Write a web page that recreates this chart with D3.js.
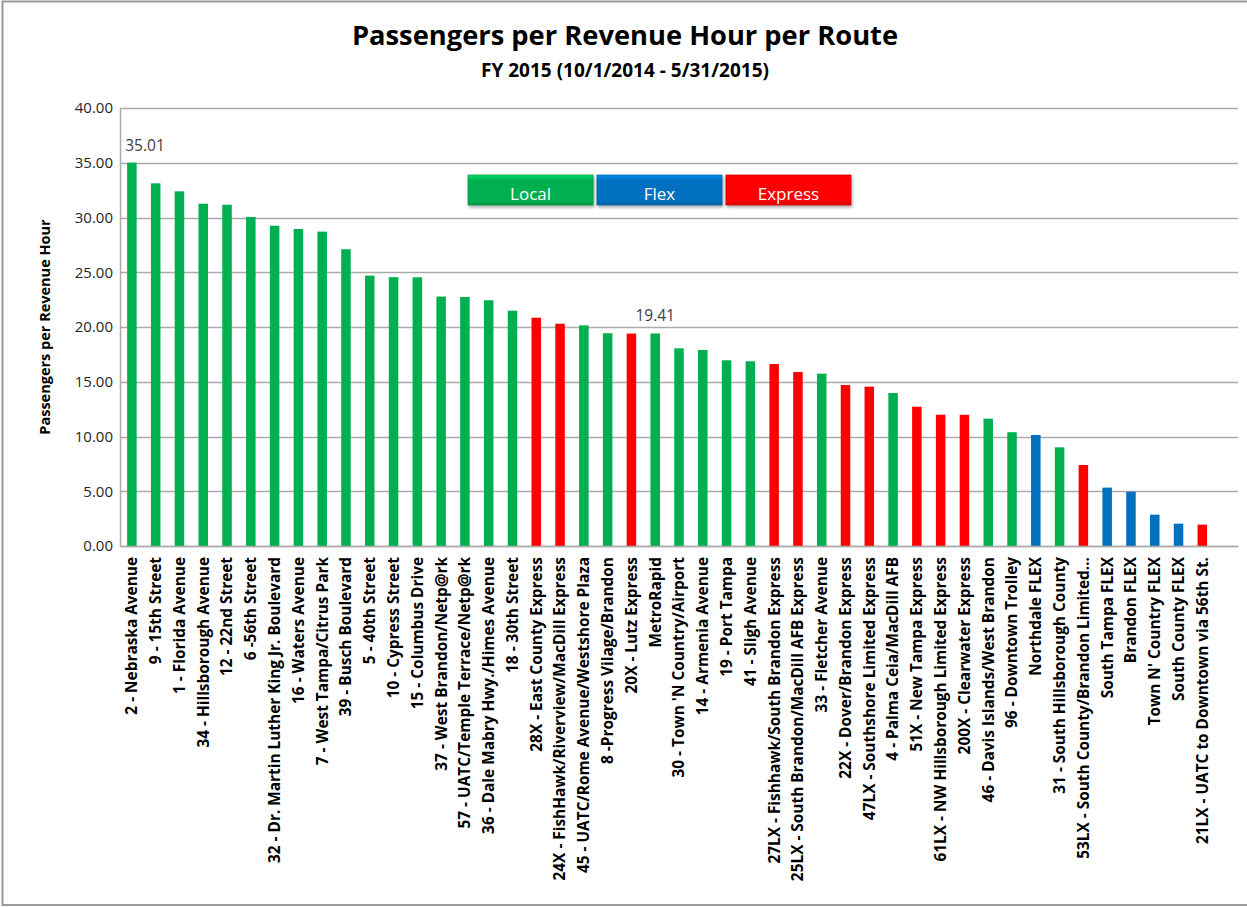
<!DOCTYPE html>
<html>
<head>
<meta charset="utf-8">
<script src="https://cdn.jsdelivr.net/npm/d3@7"></script>
<style>
  body { margin: 0; background: #fff; }
  text { font-family: "Open Sans", "Liberation Sans", sans-serif; }
</style>
</head>
<body>
<div id="chart"></div>
<script>
const width = 1247;
const height = 907;
const margin = {top: 108, right: 9, bottom: 361, left: 120};

// route names, in the order they appear
const routes = [
  "2 - Nebraska Avenue", "9 - 15th Street", "1 - Florida Avenue", "34 - Hillsborough Avenue",
  "12 - 22nd Street", "6 -56th Street", "32 - Dr. Martin Luther King Jr. Boulevard",
  "16 - Waters Avenue", "7 - West Tampa/Citrus Park", "39 - Busch Boulevard", "5 - 40th Street",
  "10 - Cypress Street", "15 - Columbus Drive", "37 - West Brandon/Netp@rk",
  "57 - UATC/Temple Terrace/Netp@rk", "36 - Dale Mabry Hwy./Himes Avenue", "18 - 30th Street",
  "28X - East County Express", "24X - FishHawk/Riverview/MacDill Express",
  "45 - UATC/Rome Avenue/Westshore Plaza", "8 -Progress Vilage/Brandon", "20X - Lutz Express",
  "MetroRapid", "30 - Town 'N Country/Airport", "14 - Armenia Avenue", "19 - Port Tampa",
  "41 - Sligh Avenue", "27LX - Fishhawk/South Brandon Express",
  "25LX - South Brandon/MacDill AFB Express", "33 - Fletcher Avenue",
  "22X - Dover/Brandon Express", "47LX - Southshore Limited Express",
  "4 - Palma Ceia/MacDill AFB", "51X - New Tampa Express",
  "61LX - NW Hillsborough Limited Express", "200X - Clearwater Express",
  "46 - Davis Islands/West Brandon", "96 - Downtown Trolley", "Northdale FLEX",
  "31 - South Hillsborough County", "53LX - South County/Brandon Limited...",
  "South Tampa FLEX", "Brandon FLEX", "Town N' Country FLEX", "South County FLEX",
  "21LX - UATC to Downtown via 56th St."
];

const passengers = [
  35.01, 33.12, 32.39, 31.26, 31.17, 30.05, 29.25, 28.95, 28.71, 27.10, 24.69,
  24.55, 24.54, 22.78, 22.74, 22.44, 21.49, 20.85, 20.30, 20.15, 19.43, 19.40,
  19.41, 18.05, 17.90, 16.96, 16.87, 16.62, 15.89, 15.74, 14.70, 14.55, 13.97,
  12.72, 11.99, 11.98, 11.63, 10.39, 10.14, 9.01, 7.40, 5.33, 4.96, 2.86, 2.04, 1.95
];

// L = Local, F = Flex, E = Express
const routeType = [
  "L","L","L","L","L","L","L","L","L","L","L","L","L","L","L","L","L",
  "E","E","L","L","E","L","L","L","L","L","E","E","L","E","E","L","E","E","E",
  "L","L","F","L","E","F","F","F","F","E"
];

const labelled = ["2 - Nebraska Avenue", "MetroRapid"];

const yTicks = [0, 5, 10, 15, 20, 25, 30, 35, 40];

const legendNames = ["Local", "Flex", "Express"];
const legendKeys = ["L", "F", "E"];

const colors = {L: "#00B050", F: "#0070C0", E: "#FF0000"};

let data = routes.map((r, i) => ({route: r, value: passengers[i], type: routeType[i]}));

let svg = d3.select("#chart").append("svg")
    .attr("width", width)
    .attr("height", height);

let defs = svg.append("defs");

// outer frame (top, left, bottom visible)
svg.append("path")
    .attr("d", `M1247,1.5 H2.5 V905 H1247`)
    .attr("fill", "none")
    .attr("stroke", "#999")
    .attr("stroke-width", 2);

// title
svg.append("text")
    .attr("x", 625)
    .attr("y", 45)
    .attr("text-anchor", "middle")
    .style("font-size", "27.3px")
    .style("font-weight", "bold")
    .attr("fill", "#000")
    .text("Passengers per Revenue Hour per Route");

svg.append("text")
    .attr("x", 625)
    .attr("y", 77)
    .attr("text-anchor", "middle")
    .style("font-size", "19px")
    .style("font-weight", "bold")
    .attr("fill", "#000")
    .text("FY 2015 (10/1/2014 - 5/31/2015)");

// one blank category at the end, as in the original sheet
let xScale = d3.scaleBand()
    .domain(routes.concat([""]))
    .range([margin.left, width - margin.right])
    .paddingInner(0.6)
    .paddingOuter(0.3);

let yScale = d3.scaleLinear()
    .domain([0, 40])
    .range([height - margin.bottom, margin.top]);

// gridlines
svg.append("g")
    .selectAll("line")
    .data(yTicks)
    .enter()
    .append("line")
    .attr("x1", margin.left)
    .attr("x2", width - margin.right)
    .attr("y1", d => Math.round(yScale(d)) + 0.5)
    .attr("y2", d => Math.round(yScale(d)) + 0.5)
    .attr("stroke", "#ababab")
    .attr("stroke-width", 1.5);

// y axis
let yAxis = svg.append("g")
    .attr("transform", `translate(${margin.left},0)`)
    .call(d3.axisLeft(yScale).tickValues(yTicks).tickFormat(d3.format(".2f")).tickSize(0).tickPadding(7));
yAxis.select(".domain").attr("stroke", "#ababab").attr("stroke-width", 1.5);
yAxis.selectAll("text")
    .style("font-size", "15px")
    .style("font-family", "'Open Sans', sans-serif")
    .attr("fill", "#262626");

svg.append("text")
    .attr("transform", `translate(50, ${(margin.top + height - margin.bottom) / 2}) rotate(-90)`)
    .attr("text-anchor", "middle")
    .style("font-size", "14.5px")
    .style("font-weight", "bold")
    .attr("fill", "#000")
    .text("Passengers per Revenue Hour");

// bars
svg.append("g")
    .selectAll("rect")
    .data(data)
    .enter()
    .append("rect")
    .attr("x", d => xScale(d.route))
    .attr("y", d => yScale(d.value))
    .attr("width", xScale.bandwidth())
    .attr("height", d => yScale(0) - yScale(d.value))
    .attr("fill", d => colors[d.type]);

// x axis
let xAxis = svg.append("g")
    .attr("transform", `translate(0,${yScale(0)})`)
    .call(d3.axisBottom(xScale).tickSize(0).tickPadding(0));
xAxis.select(".domain").attr("stroke", "#ababab").attr("stroke-width", 1.5);
xAxis.selectAll(".tick text")
    .attr("transform", "rotate(-90)")
    .attr("text-anchor", "end")
    .attr("x", -11)
    .attr("y", 0)
    .attr("dy", "0.35em")
    .style("font-size", "15.4px")
    .style("font-weight", "bold")
    .style("font-family", "'Open Sans', sans-serif")
    .attr("fill", "#000");

// data labels
svg.append("g")
    .selectAll("text")
    .data(data.filter(d => labelled.includes(d.route)))
    .enter()
    .append("text")
    .attr("x", d => Math.max(xScale(d.route) + xScale.bandwidth() / 2, margin.left + 25))
    .attr("y", d => yScale(d.value) - 12)
    .attr("text-anchor", "middle")
    .style("font-size", "15.5px")
    .attr("fill", "#404040")
    .text(d => d.value.toFixed(2));

// legend buttons
const legendX = d3.scaleBand()
    .domain(legendNames)
    .range([468, 851])
    .paddingInner(0.03);

legendKeys.forEach(k => {
    let g = defs.append("linearGradient")
        .attr("id", "grad" + k)
        .attr("x1", 0).attr("y1", 0).attr("x2", 0).attr("y2", 1);
    let c = d3.color(colors[k]);
    g.append("stop").attr("offset", "0%").attr("stop-color", c.brighter(0.7));
    g.append("stop").attr("offset", "18%").attr("stop-color", c);
    g.append("stop").attr("offset", "85%").attr("stop-color", c);
    g.append("stop").attr("offset", "100%").attr("stop-color", c.darker(0.5));
});

let shadow = defs.append("filter").attr("id", "shadow")
    .attr("x", "-10%").attr("y", "-20%").attr("width", "120%").attr("height", "160%");
shadow.append("feDropShadow")
    .attr("dx", 1).attr("dy", 2).attr("stdDeviation", 1.5)
    .attr("flood-color", "#000").attr("flood-opacity", 0.35);

let legend = svg.append("g")
    .selectAll("g")
    .data(legendNames)
    .enter()
    .append("g");

legend.append("rect")
    .attr("x", d => legendX(d))
    .attr("y", 175)
    .attr("width", legendX.bandwidth())
    .attr("height", 30)
    .attr("fill", (d, i) => `url(#grad${legendKeys[i]})`)
    .attr("stroke", (d, i) => d3.color(colors[legendKeys[i]]).darker(0.4))
    .attr("stroke-width", 0.75)
    .attr("filter", "url(#shadow)");

legend.append("text")
    .attr("x", d => legendX(d) + legendX.bandwidth() / 2)
    .attr("y", 200)
    .attr("text-anchor", "middle")
    .style("font-size", "17px")
    .attr("fill", "#fff")
    .text(d => d);
</script>
</body>
</html>
